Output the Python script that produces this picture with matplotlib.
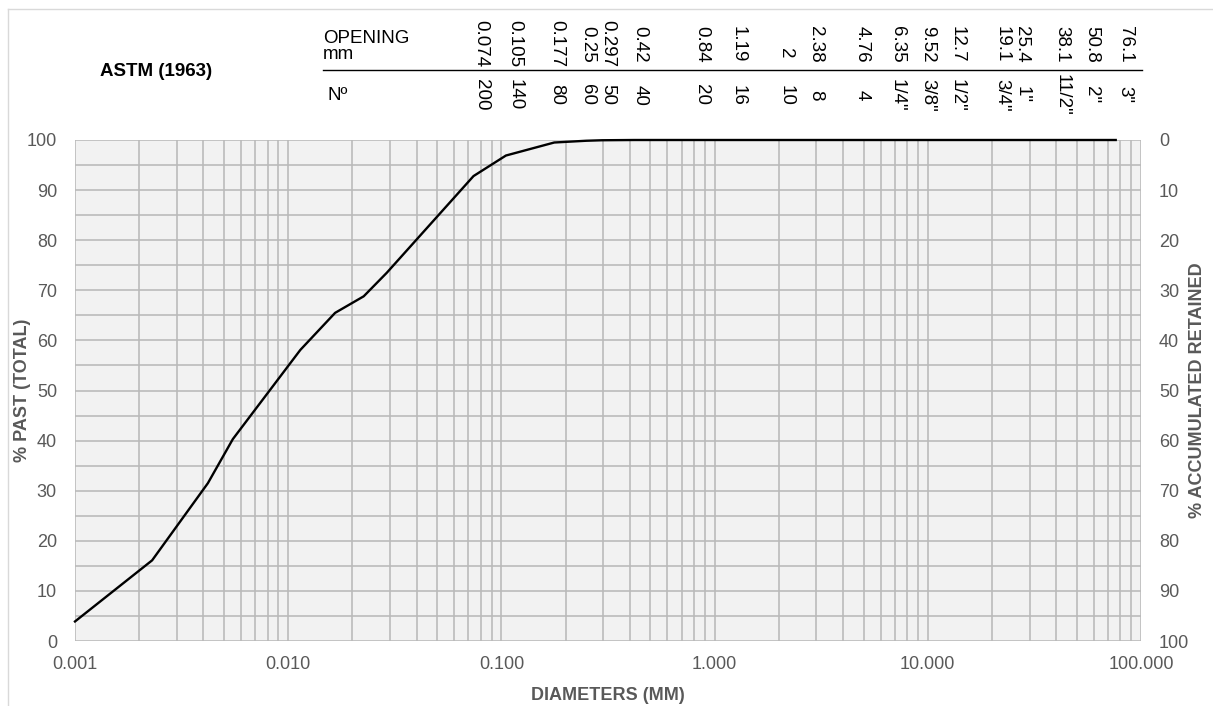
import numpy as np
import matplotlib
matplotlib.use('Agg')
import matplotlib.pyplot as plt
from matplotlib.lines import Line2D
from matplotlib.ticker import FixedLocator, FuncFormatter, MultipleLocator

plt.rcParams['font.family'] = ['Liberation Sans', 'DejaVu Sans']

# granulometric curve: diameter (mm) vs % passing
diameter = [0.001, 0.0023, 0.0042, 0.0055, 0.0114, 0.0166, 0.0226, 0.029,
            0.074, 0.105, 0.177, 0.25, 0.297, 0.42, 0.84, 1.19, 2.0, 2.38,
            4.76, 6.35, 9.52, 12.7, 19.1, 25.4, 38.1, 50.8, 76.1]
passing = [3.9, 16.1, 31.5, 40.3, 58.1, 65.5, 68.8, 73.5,
           92.8, 96.9, 99.5, 99.85, 99.95, 100, 100, 100, 100, 100,
           100, 100, 100, 100, 100, 100, 100, 100, 100]

# ASTM sieve table shown above the chart
openings = ['0.074', '0.105', '0.177', '0.25', '0.297', '0.42', '0.84', '1.19',
            '2', '2.38', '4.76', '6.35', '9.52', '12.7', '19.1', '25.4',
            '38.1', '50.8', '76.1']
sieve_no = ['200', '140', '80', '60', '50', '40', '20', '16', '10', '8', '4',
            '1/4"', '3/8"', '1/2"', '3/4"', '1"', '11/2"', '2"', '3"']
# column centres of the table, in pixels
col_x = [481, 515, 557, 588, 608, 640, 702, 738, 786, 816, 862, 897, 928,
         957, 1002, 1022, 1062, 1092, 1125]

W, H = 1213, 706
fig = plt.figure(figsize=(W / 100, H / 100), dpi=100)


def px(x, y):
    return x / W, 1 - y / H


grey = '#595959'
grid_c = '#b9b9b9'

left, right, top, bottom = 75, 1141, 140, 641
ax = fig.add_axes([left / W, 1 - bottom / H, (right - left) / W, (bottom - top) / H])
ax.set_facecolor('#f2f2f2')
ax.set_xscale('log')
ax.set_xlim(0.001, 100)
ax.set_ylim(0, 100)

ax.yaxis.set_major_locator(MultipleLocator(10))
ax.yaxis.set_minor_locator(MultipleLocator(5))
ax.xaxis.set_major_locator(FixedLocator([0.001, 0.01, 0.1, 1, 10, 100]))
ax.xaxis.set_major_formatter(FuncFormatter(lambda v, p: f'{v:.3f}'))
ax.grid(True, which='both', color=grid_c, lw=1.15)
ax.set_axisbelow(True)
for s in ax.spines.values():
    s.set_visible(False)
ax.tick_params(which='both', length=0, labelsize=13, colors=grey)
ax.tick_params(axis='y', pad=13)
ax.tick_params(axis='x', pad=11)

ax.plot(diameter, passing, color='black', lw=1.7, clip_on=False, zorder=5)

# accumulated retained on the right, reversed scale
ax2 = ax.twinx()
ax2.set_ylim(100, 0)
ax2.yaxis.set_major_locator(MultipleLocator(10))
ax2.tick_params(length=0, labelsize=13, colors=grey, pad=13)
for s in ax2.spines.values():
    s.set_visible(False)

fig.text(*px(23, 390), '% PAST (TOTAL)', rotation=90, ha='center', va='center',
         fontsize=13, fontweight='bold', color=grey)
fig.text(*px(1197, 390), '% ACCUMULATED RETAINED', rotation=90, ha='center',
         va='center', fontsize=13, fontweight='bold', color=grey)
fig.text(*px(608, 695), 'DIAMETERS (MM)', ha='center', va='center',
         fontsize=13, fontweight='bold', color=grey)

# header table
fig.text(*px(156, 72), 'ASTM (1963)', ha='center', va='center',
         fontsize=13.5, fontweight='bold', color='black')
fig.text(*px(323, 63), 'OPENING\nmm', ha='left', va='bottom', fontsize=13.5,
         linespacing=0.95, color='black')
fig.text(*px(327, 95), 'Nº', ha='left', va='center', fontsize=13.5, color='black')
fig.add_artist(Line2D([323 / W, 1142 / W], [1 - 70 / H, 1 - 70 / H],
                      color='black', lw=1.0))
for x, op, no in zip(col_x, openings, sieve_no):
    y_op = 53 if op == '2' else 44
    fig.text(*px(x, y_op), op, rotation=-90, ha='center', va='center',
             fontsize=13.5, color='black')
    fig.text(*px(x, 95), no, rotation=-90, ha='center', va='center',
             fontsize=13.5, color='black')

# chart area frame
fig.add_artist(Line2D([8 / W, 8 / W], [1 - 9 / H, 0], color='#d9d9d9', lw=1.0))
fig.add_artist(Line2D([8 / W, 1], [1 - 9 / H, 1 - 9 / H], color='#d9d9d9', lw=1.0))

fig.savefig('out.png', dpi=100)
